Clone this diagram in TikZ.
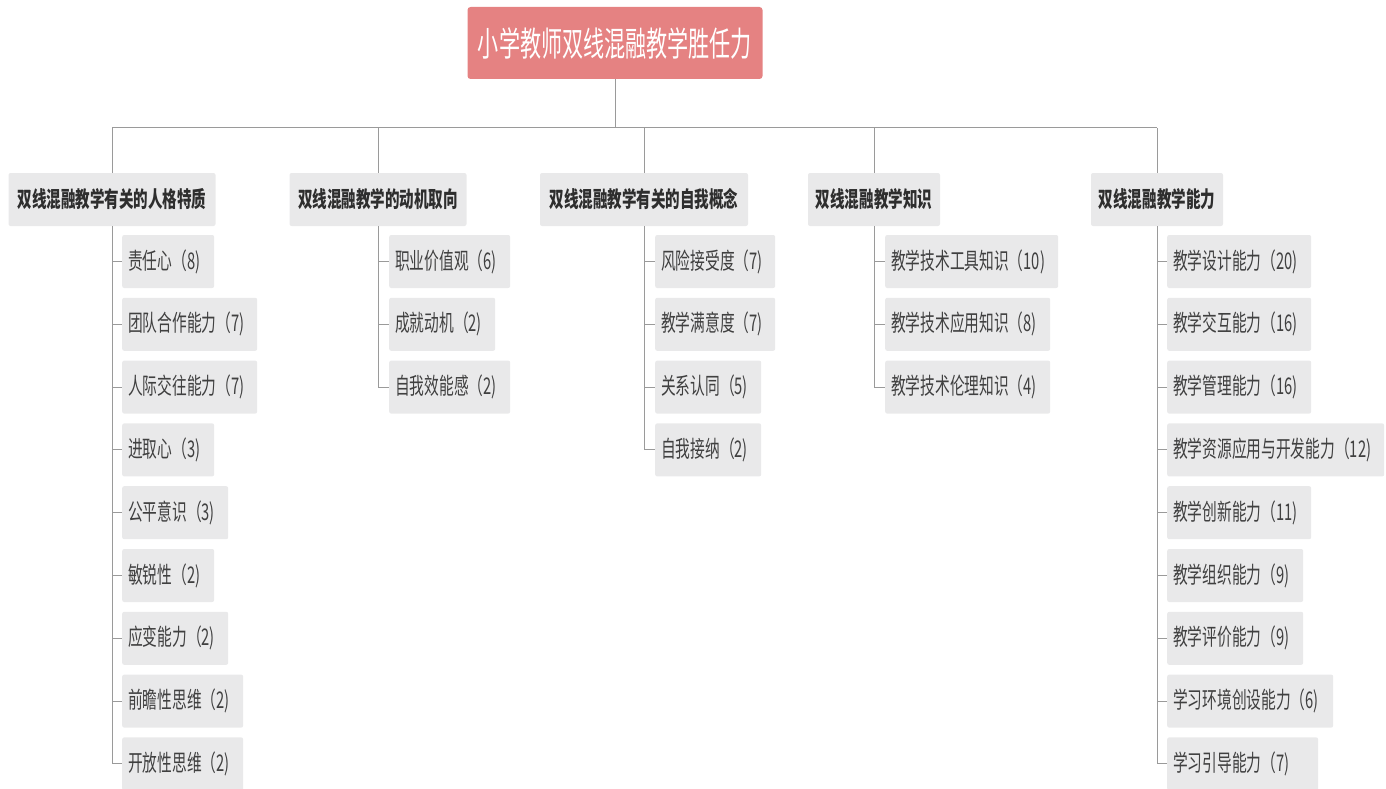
\documentclass[tikz,border=0pt]{standalone}
\usepackage{fontspec}
\newfontfamily\cjkroot[FakeStretch=0.62]{Noto Sans CJK SC}
\newfontfamily\cjkcat[FakeStretch=0.66]{Noto Sans CJK SC}
\newfontfamily\cjkleaf[FakeStretch=0.64]{Noto Sans CJK SC}
\definecolor{rootpink}{HTML}{E58282}
\definecolor{boxgray}{HTML}{E9E9EA}
\definecolor{linegray}{HTML}{9A9A9A}
\definecolor{cattext}{HTML}{2E2E2E}
\definecolor{leaftext}{HTML}{404040}
\tikzset{
  rootbox/.style={fill=rootpink, rounded corners=3pt, minimum width=295pt, minimum height=72pt, inner sep=0pt, text=white, font=\cjkroot\fontsize{34}{34}\selectfont},
  catbox/.style={fill=boxgray, rounded corners=2pt, minimum height=53pt, inner xsep=6pt, inner ysep=0pt, text=cattext, font=\cjkcat\bfseries\fontsize{22}{22}\selectfont},
  leaf/.style={fill=boxgray, rounded corners=2pt, anchor=west, minimum height=53pt, inner xsep=6pt, inner ysep=0pt, align=left, text=leaftext, font=\cjkleaf\fontsize{23}{23}\selectfont},
  conn/.style={draw=linegray, line width=1pt}
}
\begin{document}
\begin{tikzpicture}[x=1pt,y=-1pt]
\useasboundingbox (0,0) rectangle (1386,789);
\node[rootbox] (root) at (615,43) {小学教师双线混融教学胜任力};
\coordinate (busL) at (112,128);
\coordinate (busR) at (1157,128);
% categories
\node[catbox, minimum width=207pt] (c1) at (112,199.5) {双线混融教学有关的人格特质};
\node[catbox, minimum width=177pt] (c2) at (378,199.5) {双线混融教学的动机取向};
\node[catbox, minimum width=208pt] (c3) at (644,199.5) {双线混融教学有关的自我概念};
\node[catbox, minimum width=132pt] (c4) at (874,199.5) {双线混融教学知识};
\node[catbox, minimum width=132pt] (c5) at (1157,199.5) {双线混融教学能力};
% column 1
\node[leaf, text width=80pt] (a1) at (122,261.5) {责任心（8)};
\node[leaf, text width=123pt] (a2) at (122,324.3) {团队合作能力（7)};
\node[leaf, text width=123pt] (a3) at (122,387.1) {人际交往能力（7)};
\node[leaf, text width=80pt] (a4) at (122,449.9) {进取心（3)};
\node[leaf, text width=94pt] (a5) at (122,512.7) {公平意识（3)};
\node[leaf, text width=80pt] (a6) at (122,575.5) {敏锐性（2)};
\node[leaf, text width=94pt] (a7) at (122,638.3) {应变能力（2)};
\node[leaf, text width=109pt] (a8) at (122,701.1) {前瞻性思维（2)};
\node[leaf, text width=109pt] (a9) at (122,763.9) {开放性思维（2)};
% column 2
\node[leaf, text width=109pt] (b1) at (389,261.5) {职业价值观（6)};
\node[leaf, text width=94pt] (b2) at (389,324.3) {成就动机（2)};
\node[leaf, text width=109pt] (b3) at (389,387.1) {自我效能感（2)};
% column 3
\node[leaf, text width=108pt] (d1) at (655,261.5) {风险接受度（7)};
\node[leaf, text width=108pt] (d2) at (655,324.3) {教学满意度（7)};
\node[leaf, text width=94pt] (d3) at (655,387.1) {关系认同（5)};
\node[leaf, text width=94pt] (d4) at (655,449.9) {自我接纳（2)};
% column 4
\node[leaf, text width=161pt] (e1) at (885,261.5) {教学技术工具知识（10)};
\node[leaf, text width=153pt] (e2) at (885,324.3) {教学技术应用知识（8)};
\node[leaf, text width=153pt] (e3) at (885,387.1) {教学技术伦理知识（4)};
% column 5
\node[leaf, text width=132pt] (f1) at (1167,261.5) {教学设计能力（20)};
\node[leaf, text width=132pt] (f2) at (1167,324.3) {教学交互能力（16)};
\node[leaf, text width=132pt] (f3) at (1167,387.1) {教学管理能力（16)};
\node[leaf, text width=205pt] (f4) at (1167,449.9) {教学资源应用与开发能力（12)};
\node[leaf, text width=132pt] (f5) at (1167,512.7) {教学创新能力（11)};
\node[leaf, text width=124pt] (f6) at (1167,575.5) {教学组织能力（9)};
\node[leaf, text width=124pt] (f7) at (1167,638.3) {教学评价能力（9)};
\node[leaf, text width=154pt] (f8) at (1167,701.1) {学习环境创设能力（6)};
\node[leaf, text width=139pt] (f9) at (1167,763.9) {学习引导能力（7)};
% connectors
\draw[conn] (root.south) -- (root.south |- busL);
\draw[conn] (busL) -- (busR);
\foreach \c in {c1,c2,c3,c4,c5} {\draw[conn] (\c.north) -- (\c.north |- busL);}
\draw[conn] (c1.south) -- (c1.south |- a9.west);
\foreach \n in {a1,a2,a3,a4,a5,a6,a7,a8,a9} {\draw[conn] (c1.south |- \n.west) -- (\n.west);}
\draw[conn] (c2.south) -- (c2.south |- b3.west);
\foreach \n in {b1,b2,b3} {\draw[conn] (c2.south |- \n.west) -- (\n.west);}
\draw[conn] (c3.south) -- (c3.south |- d4.west);
\foreach \n in {d1,d2,d3,d4} {\draw[conn] (c3.south |- \n.west) -- (\n.west);}
\draw[conn] (c4.south) -- (c4.south |- e3.west);
\foreach \n in {e1,e2,e3} {\draw[conn] (c4.south |- \n.west) -- (\n.west);}
\draw[conn] (c5.south) -- (c5.south |- f9.west);
\foreach \n in {f1,f2,f3,f4,f5,f6,f7,f8,f9} {\draw[conn] (c5.south |- \n.west) -- (\n.west);}
\end{tikzpicture}
\end{document}
